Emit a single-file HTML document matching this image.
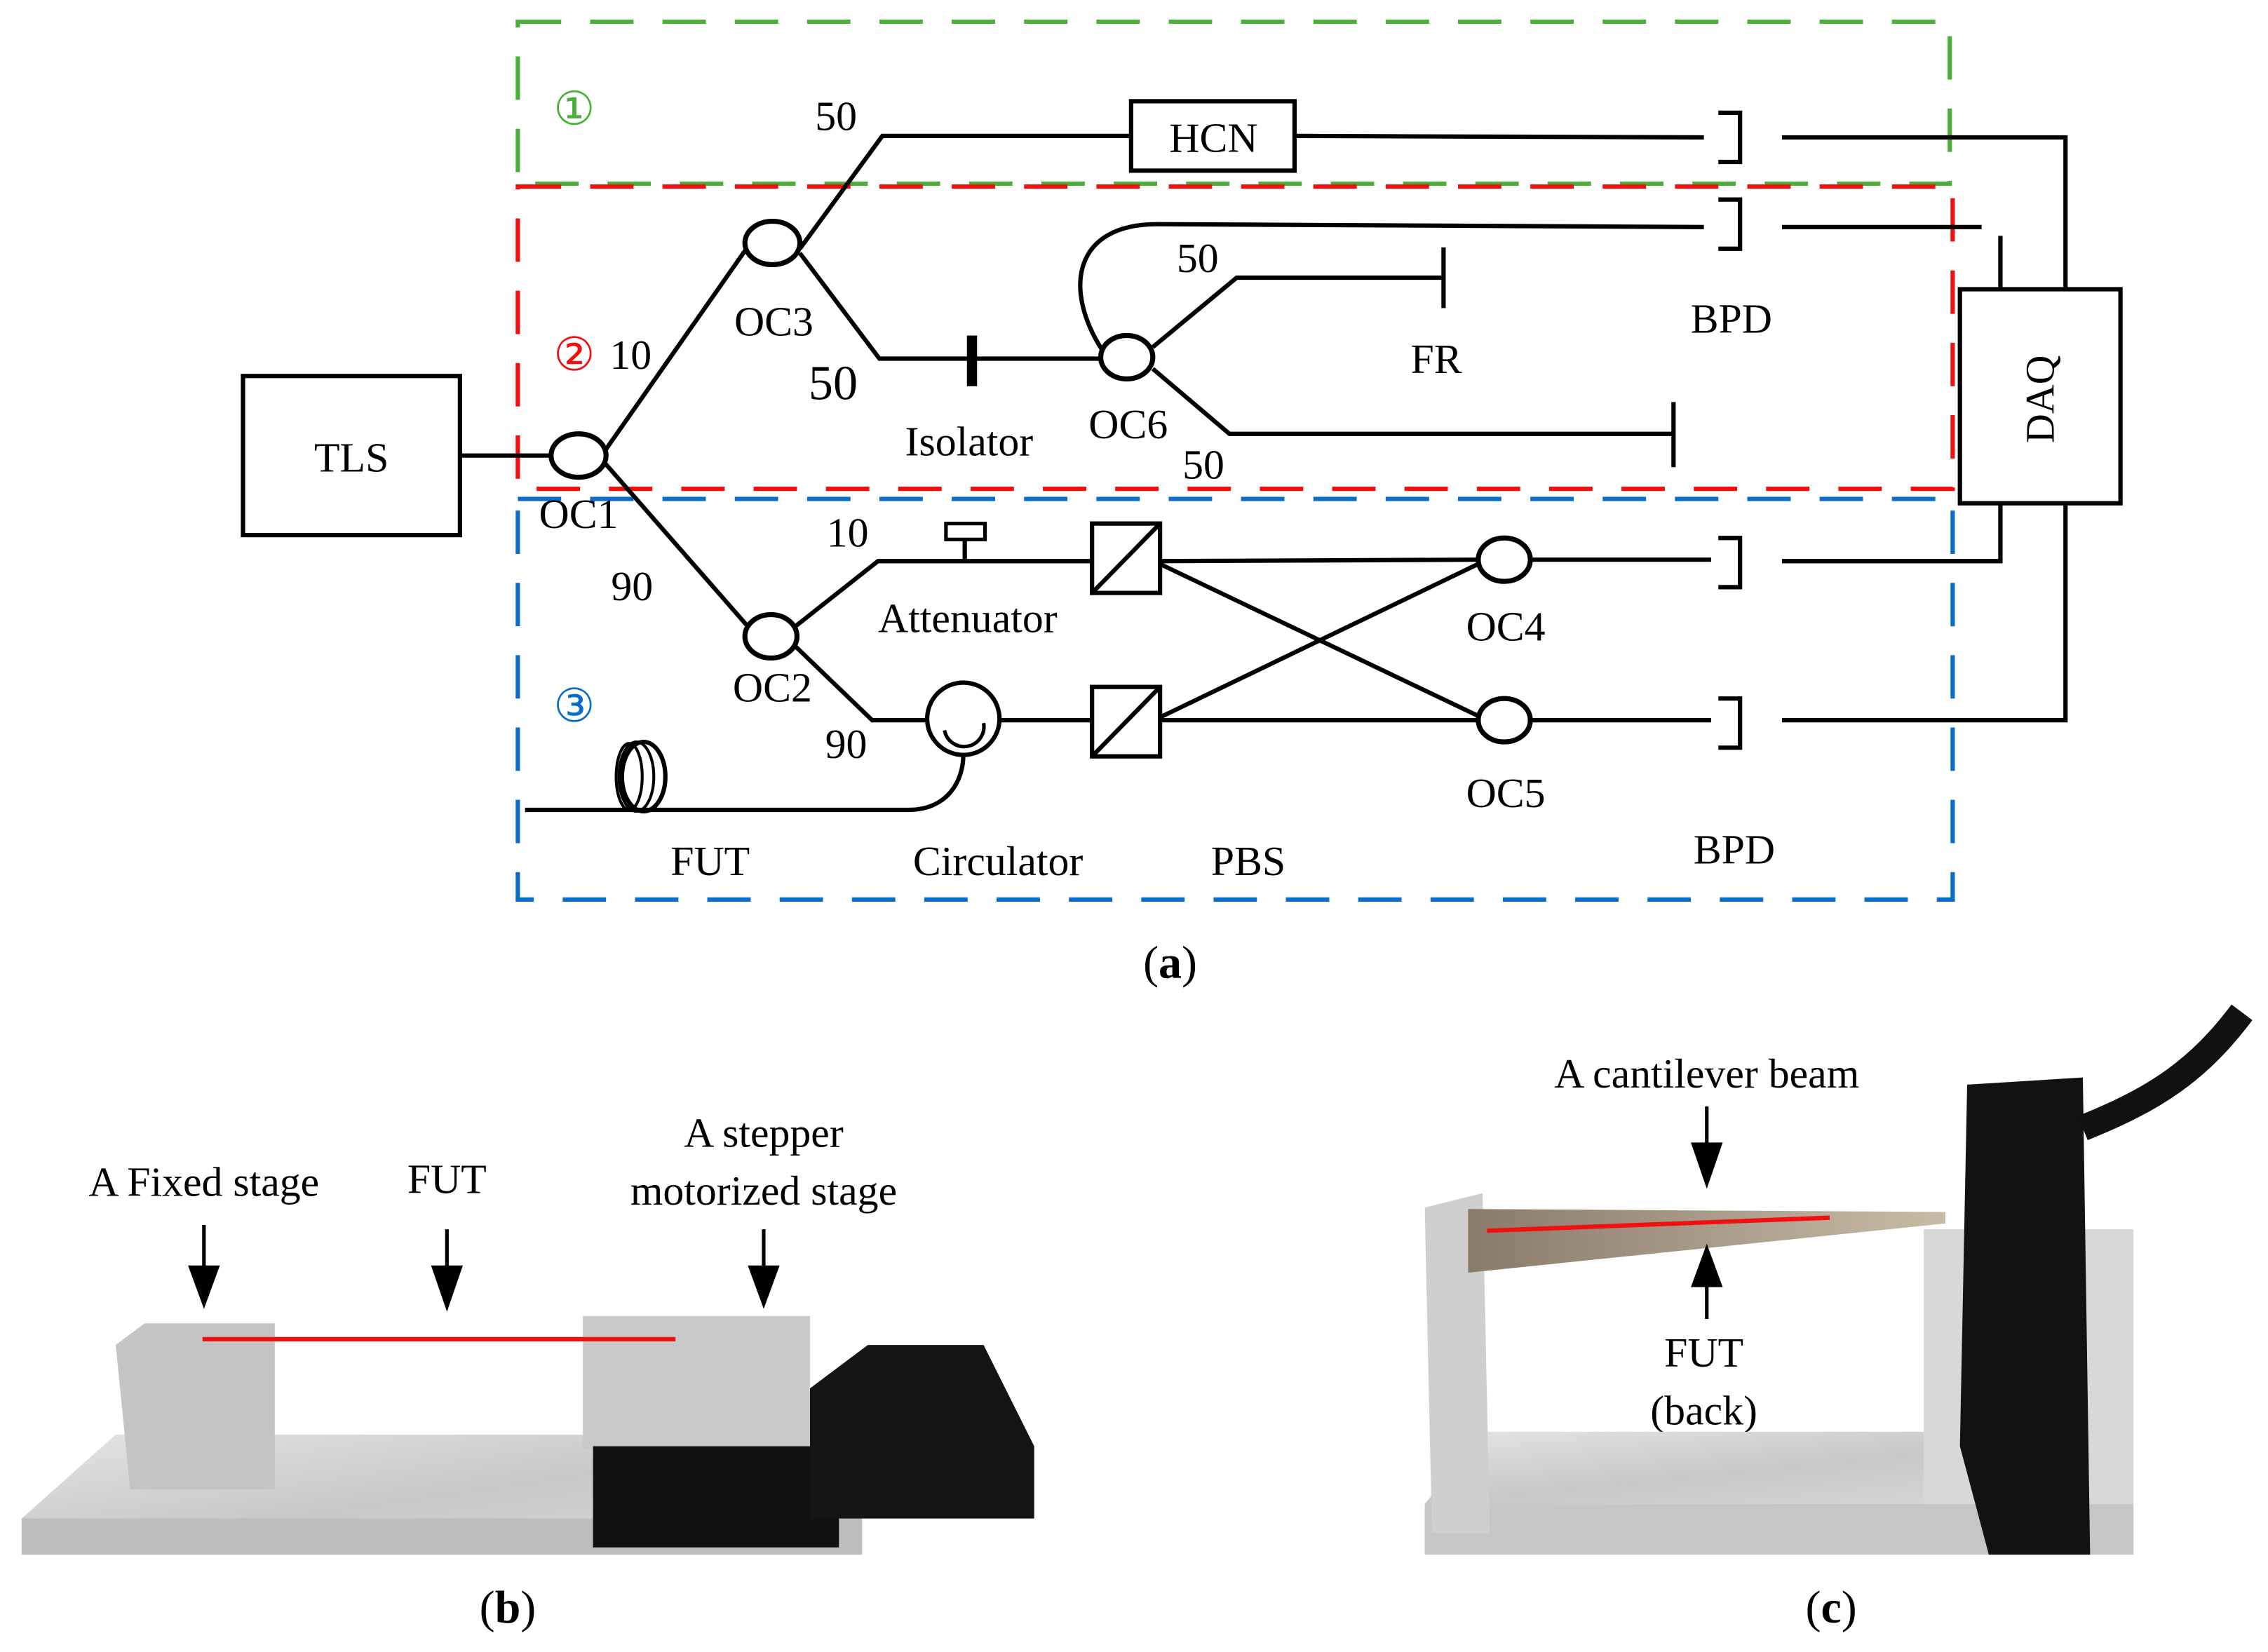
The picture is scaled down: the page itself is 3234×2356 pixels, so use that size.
<!DOCTYPE html>
<html><head><meta charset="utf-8"><style>html,body{margin:0;padding:0;background:#fff}svg{display:block}</style></head><body>
<svg width="3234" height="2356" viewBox="0 0 1568 1142.3" preserveAspectRatio="none" xmlns="http://www.w3.org/2000/svg" font-family="Liberation Serif, serif">
<defs>
<linearGradient id="metal" x1="0" y1="0" x2="1" y2="1"><stop offset="0" stop-color="#e4e4e4"/><stop offset="0.5" stop-color="#c8c8c8"/><stop offset="1" stop-color="#dadada"/></linearGradient>
<linearGradient id="beam" x1="0" y1="0" x2="1" y2="0"><stop offset="0" stop-color="#8a7a6a"/><stop offset="1" stop-color="#c8bca8"/></linearGradient>
</defs>
<rect width="1568" height="1142.3" fill="#fff"/>
<rect x="358" y="15" width="990" height="112" fill="none" stroke="#4caf3a" stroke-width="3" stroke-dasharray="30 20"/>
<rect x="358" y="129" width="992" height="209" fill="none" stroke="#f01010" stroke-width="3" stroke-dasharray="30 20"/>
<rect x="358" y="345" width="992" height="277" fill="none" stroke="#0a6ec8" stroke-width="3" stroke-dasharray="30 20"/>
<g stroke="#000" stroke-width="3" fill="none">
<rect x="168" y="260" width="150" height="110"/>
<line x1="318" y1="315" x2="382" y2="315"/>
<polyline points="418,312 516,172"/>
<polyline points="553,172 610,94 782,94"/>
<rect x="782" y="70" width="113" height="48"/>
<line x1="895" y1="94" x2="1178" y2="95"/>
<polyline points="1188,78 1203,78 1203,112 1188,112"/>
<polyline points="1232,95 1428,95 1428,200"/>
<polyline points="553,175 608,248 761,248"/>
<line x1="672" y1="232" x2="672" y2="267" stroke-width="7"/>
<path d="M762,242 C735,200 742,155 800,155 L1178,157"/>
<polyline points="1188,138 1203,138 1203,172 1188,172"/>
<line x1="1232" y1="157" x2="1370" y2="157"/>
<line x1="1383" y1="163" x2="1383" y2="200"/>
<polyline points="797,240 855,192 998,192"/>
<line x1="998" y1="171" x2="998" y2="213"/>
<polyline points="797,255 850,300 1157,300"/>
<line x1="1157" y1="278" x2="1157" y2="323"/>
<rect x="1355" y="200" width="111" height="148"/>
<polyline points="418,320 516,432"/>
<polyline points="550,433 607,388 755,388"/>
<line x1="667" y1="372" x2="667" y2="388"/>
<rect x="654" y="362" width="27" height="11" stroke-width="2.5"/>
<rect x="755" y="362" width="47" height="48"/>
<line x1="755" y1="410" x2="802" y2="362"/>
<line x1="802" y1="388" x2="1022" y2="387"/>
<line x1="802" y1="390" x2="1024" y2="496"/>
<polyline points="550,447 603,498 641,498"/>
<circle cx="666" cy="497" r="25"/>
<path d="M653,505 A13,13 0 0 0 680,500" stroke-width="2.5"/>
<line x1="691" y1="498" x2="755" y2="498"/>
<rect x="755" y="475" width="47" height="48"/>
<line x1="755" y1="523" x2="802" y2="475"/>
<line x1="802" y1="498" x2="1022" y2="498"/>
<line x1="802" y1="496" x2="1024" y2="389"/>
<line x1="1058" y1="387" x2="1183" y2="387"/>
<polyline points="1188,372 1203,372 1203,406 1188,406"/>
<polyline points="1232,388 1383,388 1383,348"/>
<line x1="1058" y1="498" x2="1183" y2="498"/>
<polyline points="1188,483 1203,483 1203,517 1188,517"/>
<polyline points="1232,498 1428,498 1428,348"/>
<path d="M363,560 L628,560 C655,560 666,540 666,522"/>
<ellipse cx="445" cy="537" rx="15" ry="24"/>
<ellipse cx="440" cy="537" rx="12" ry="24" stroke-width="2"/>
<ellipse cx="435" cy="537" rx="9" ry="23" stroke-width="2"/>
</g>
<g stroke="#000" stroke-width="3.5" fill="#fff">
<ellipse cx="400" cy="315" rx="19" ry="15"/>
<ellipse cx="534" cy="168" rx="19" ry="15"/>
<ellipse cx="779" cy="247" rx="18" ry="15"/>
<ellipse cx="533" cy="440" rx="18" ry="15"/>
<ellipse cx="1040" cy="387" rx="18" ry="15"/>
<ellipse cx="1040" cy="498" rx="18" ry="15"/>
</g>
<g font-size="29" text-anchor="middle" fill="#000">
<text x="243" y="326">TLS</text>
<text x="839" y="105">HCN</text>
<text x="1410" y="276" transform="rotate(-90 1410 276)" dy="10" font-size="28">DAQ</text>
<text x="397" y="86" fill="#4caf3a" font-size="32">①</text>
<text x="397" y="256" fill="#f01010" font-size="32">②</text>
<text x="397" y="499" fill="#0a6ec8" font-size="32">③</text>
<text x="436" y="255">10</text>
<text x="578" y="90">50</text>
<text x="535" y="232">OC3</text>
<text x="576" y="276" font-size="34">50</text>
<text x="670" y="315">Isolator</text>
<text x="780" y="303">OC6</text>
<text x="828" y="188">50</text>
<text x="993" y="258">FR</text>
<text x="832" y="331">50</text>
<text x="1197" y="230">BPD</text>
<text x="400" y="365">OC1</text>
<text x="586" y="378">10</text>
<text x="669" y="437">Attenuator</text>
<text x="437" y="415">90</text>
<text x="534" y="485">OC2</text>
<text x="1041" y="443">OC4</text>
<text x="585" y="524">90</text>
<text x="1041" y="558">OC5</text>
<text x="491" y="605">FUT</text>
<text x="690" y="605">Circulator</text>
<text x="863" y="605">PBS</text>
<text x="1199" y="597">BPD</text>
<text x="809" y="676" font-size="32">(<tspan font-weight="bold">a</tspan>)</text>
<text x="141" y="827">A Fixed stage</text>
<text x="309" y="825">FUT</text>
<text x="528" y="793">A stepper</text>
<text x="528" y="833">motorized stage</text>
<text x="351" y="1122" font-size="32">(<tspan font-weight="bold">b</tspan>)</text>
<text x="1180" y="752">A cantilever beam</text>
<text x="1178" y="945">FUT</text>
<text x="1178" y="985">(back)</text>
<text x="1266" y="1122" font-size="32">(<tspan font-weight="bold">c</tspan>)</text>
</g>
<polygon points="15,1050 80,992 590,992 596,1075 15,1075" fill="url(#metal)"/>
<rect x="15" y="1050" width="581" height="25" fill="#bdbdbd"/>
<polygon points="80,930 100,915 190,915 190,1030 90,1030" fill="#c4c4c4"/>
<rect x="403" y="910" width="157" height="92" fill="#c9c9c9"/>
<rect x="410" y="1000" width="170" height="70" fill="#111"/>
<polygon points="560,960 600,930 680,930 715,1000 715,1050 560,1050" fill="#151515"/>
<line x1="140" y1="926" x2="467" y2="926" stroke="#f01010" stroke-width="3"/>
<rect x="985" y="1040" width="490" height="35" fill="#c6c6c6"/>
<polygon points="1025,990 1340,990 1475,1040 985,1040" fill="url(#metal)"/>
<polygon points="985,835 1025,825 1030,1060 990,1060" fill="#cfcfcf"/>
<rect x="1330" y="850" width="145" height="190" fill="#d8d8d8"/>
<polygon points="1015,836 1345,838 1345,846 1015,880" fill="url(#beam)"/>
<polygon points="1360,750 1440,745 1445,1075 1375,1075 1355,1000" fill="#121212"/>
<path d="M1440,780 C1490,760 1520,740 1550,700" stroke="#111" stroke-width="18" fill="none"/>
<line x1="1028" y1="851" x2="1265" y2="842" stroke="#f01010" stroke-width="3"/>
<g stroke="#000" stroke-width="2.5">
<line x1="141" y1="847" x2="141" y2="880"/><line x1="309" y1="850" x2="309" y2="880"/><line x1="528" y1="850" x2="528" y2="880"/>
<line x1="1180" y1="765" x2="1180" y2="795"/><line x1="1180" y1="885" x2="1180" y2="912"/>
</g>
<g fill="#000">
<polygon points="130,875 152,875 141,905"/><polygon points="298,875 320,875 309,907"/><polygon points="517,875 539,875 528,905"/>
<polygon points="1169,790 1191,790 1180,822"/><polygon points="1169,890 1191,890 1180,860"/>
</g>
</svg>
</body></html>
